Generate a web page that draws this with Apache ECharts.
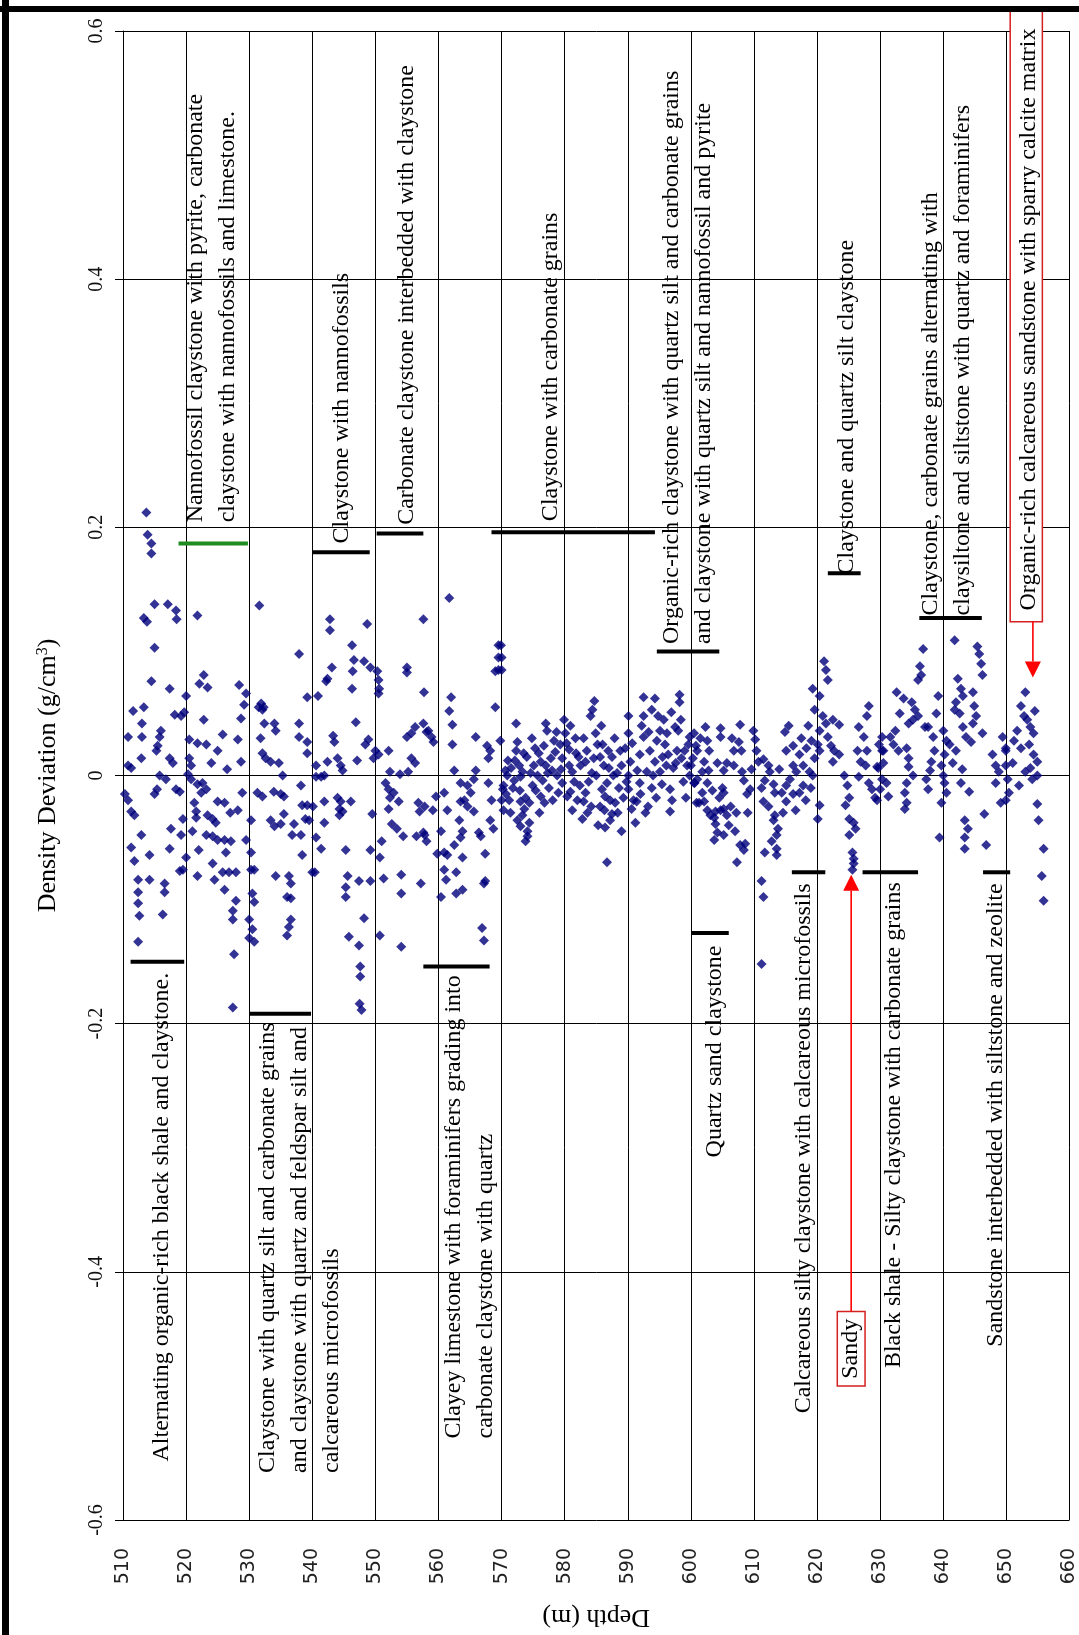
<!DOCTYPE html>
<html><head><meta charset="utf-8">
<script src="https://cdn.jsdelivr.net/npm/echarts@6/dist/echarts.min.js"></script>
<style>html,body{margin:0;padding:0;background:#fff}#c{width:1079px;height:1635px}</style>
</head><body><div id="c"></div><script>
// ---------- data: [depth (m), density deviation (g/cm3)] ----------
const seg510 = [[510.3,-0.015],[510.8,-0.020],[510.8,0.031],[510.8,0.008],[511.3,0.006],[511.3,-0.029],[511.8,-0.032],[511.6,0.052],[511.3,-0.058],[511.8,-0.069],[512.4,-0.084],[512.4,-0.094],[512.4,-0.103],[512.6,-0.113],[512.4,-0.134],[512.9,-0.048],[512.9,0.014],[513.0,0.042],[513.0,0.031],[513.3,0.055],[513.3,0.127],[513.7,0.212],[513.8,0.124],[513.9,0.194],[514.2,-0.064],[514.2,-0.084],[514.5,0.187],[514.5,0.179],[514.5,0.076],[515.0,0.138],[515.0,0.103],[515.0,-0.015],[515.3,0.020],[515.4,-0.011],[515.5,0.024],[515.8,0.031],[515.8,0.000],[516.0,0.036],[516.3,-0.112],[516.6,-0.087],[516.6,-0.094],[516.8,-0.003],[517.1,0.138],[517.4,0.070],[517.4,0.014],[517.4,-0.059],[517.6,-0.043],[517.9,0.010],[518.2,0.049],[518.4,0.133],[518.4,-0.011],[518.5,0.126],[519.0,-0.013],[519.0,-0.077],[519.2,0.048],[519.2,-0.048],[519.5,-0.035],[519.5,-0.076],[519.7,0.051],[520.0,0.064],[520.0,-0.066]];
const seg520 = [[520.3,0.001],[520.5,0.029],[520.5,0.014],[520.8,0.008],[520.8,-0.003],[521.3,-0.022],[521.6,-0.029],[521.6,-0.034],[521.8,0.129],[521.8,0.026],[521.8,-0.007],[521.8,-0.081],[522.1,0.074],[522.4,-0.014],[522.6,-0.006],[522.8,0.081],[522.8,0.045],[523.2,0.025],[523.2,-0.011],[523.2,-0.048],[523.4,0.071],[523.4,-0.032],[524.2,-0.035],[524.2,-0.049],[524.2,-0.071],[524.5,-0.084],[524.7,-0.038],[525.0,0.020],[525.0,-0.021],[525.0,-0.052],[525.8,0.033],[525.8,-0.078],[526.1,-0.022],[526.1,-0.052],[526.1,-0.092],[526.3,-0.062],[526.8,-0.078],[527.1,-0.053],[527.4,-0.109],[527.4,-0.116],[527.4,-0.187],[527.6,-0.144],[527.9,-0.078],[527.9,-0.101],[528.2,0.029],[528.2,-0.028],[528.4,0.073],[528.7,0.046],[528.7,0.011],[528.9,-0.014],[529.2,0.057],[529.5,0.066],[529.5,-0.052],[521.0,-0.045],[522.0,-0.060],[524.0,0.010],[526.5,0.005],[527.0,-0.030]];
const seg530 = [[530.3,-0.036],[530.3,-0.062],[530.3,-0.076],[530.8,-0.076],[530.5,-0.095],[530.8,-0.102],[530.0,-0.116],[530.5,-0.124],[530.0,-0.131],[530.8,-0.134],[531.3,-0.014],[531.5,0.055],[531.6,0.137],[531.8,0.030],[531.9,0.058],[532.1,0.053],[532.1,0.018],[532.1,-0.017],[532.3,0.055],[532.4,0.042],[532.6,0.014],[533.4,0.011],[533.4,-0.036],[533.9,-0.013],[534.0,0.042],[534.0,-0.041],[534.2,0.036],[534.2,-0.081],[534.7,0.010],[535.0,-0.015],[535.0,-0.039],[535.3,0.000],[535.5,-0.017],[535.5,-0.031],[536.0,-0.098],[536.0,-0.129],[536.3,-0.081],[536.3,-0.122],[536.6,-0.087],[536.6,-0.099],[536.6,-0.116],[536.8,-0.048],[537.1,-0.039],[537.9,0.098],[537.9,0.042],[537.9,0.031],[538.2,-0.008],[538.2,-0.048],[538.4,-0.024],[538.4,-0.064],[538.9,-0.035],[539.2,0.063],[539.2,0.027],[539.2,0.018],[539.2,-0.024],[539.5,-0.036],[540.0,-0.078]];
const seg540 = [[540.6,0.008],[540.6,-0.001],[540.9,0.064],[540.1,-0.025],[540.6,-0.050],[540.4,-0.078],[541.4,-0.001],[541.4,-0.059],[541.9,0.000],[541.9,-0.021],[541.9,-0.038],[542.2,0.076],[542.4,0.078],[542.4,0.011],[542.8,0.126],[542.8,0.117],[543.1,0.087],[543.3,0.032],[543.5,0.027],[544.0,0.014],[544.0,-0.018],[544.3,-0.027],[544.3,-0.032],[544.5,0.008],[544.5,-0.021],[544.8,0.004],[544.8,-0.029],[545.3,-0.060],[545.3,-0.090],[545.3,-0.098],[545.6,-0.081],[545.8,-0.130],[546.1,-0.021],[546.3,0.105],[546.3,0.070],[546.4,0.084],[546.6,0.093],[546.9,0.043],[547.1,0.012],[547.4,-0.085],[547.4,-0.137],[547.6,-0.154],[547.6,-0.162],[547.8,-0.189],[547.5,-0.184],[548.2,0.092],[548.2,-0.115],[548.4,0.025],[548.7,0.122],[548.9,0.029],[549.2,0.087],[549.2,-0.060],[549.2,-0.085],[549.5,-0.031],[549.7,0.014],[550.0,0.020]];
const seg550 = [[550.3,0.084],[550.5,0.077],[550.6,0.070],[550.5,0.066],[550.5,0.017],[550.7,-0.066],[550.7,-0.129],[551.0,-0.053],[551.3,-0.083],[551.6,-0.006],[552.1,0.020],[552.1,-0.011],[552.1,-0.027],[552.3,0.003],[552.3,-0.018],[552.6,-0.039],[552.9,-0.014],[553.4,-0.043],[553.7,-0.021],[553.9,0.001],[554.1,-0.080],[554.1,-0.095],[554.1,-0.138],[554.4,-0.049],[555.0,0.087],[555.0,0.083],[555.0,0.031],[555.2,0.003],[555.7,0.034],[555.7,0.014],[556.3,0.039],[556.3,0.010],[556.5,-0.049],[556.8,-0.022],[557.0,-0.029],[557.2,-0.087],[557.6,0.126],[557.6,0.042],[557.6,-0.046],[557.7,0.067],[557.8,-0.025],[557.8,-0.048],[558.1,0.035],[558.1,-0.053],[558.4,0.036],[558.9,0.031],[559.1,-0.028],[559.2,0.027],[559.6,-0.017],[559.8,-0.063]];
const seg560 = [[560.4,-0.045],[560.4,-0.098],[560.9,-0.014],[560.9,-0.062],[560.9,-0.076],[561.2,-0.084],[561.4,-0.028],[561.4,-0.064],[561.7,0.143],[561.7,0.052],[562.0,0.063],[562.2,0.041],[562.2,0.025],[562.5,0.004],[562.5,-0.056],[562.8,-0.078],[562.8,-0.095],[563.3,-0.036],[563.5,-0.006],[563.5,-0.021],[563.5,-0.050],[563.8,-0.045],[563.8,-0.066],[563.8,-0.092],[564.1,-0.020],[564.6,-0.008],[564.6,-0.025],[565.1,-0.014],[565.6,-0.003],[565.6,-0.029],[565.9,0.031],[565.9,0.004],[566.4,-0.046],[566.7,-0.049],[566.9,-0.123],[567.2,-0.087],[567.2,-0.133],[567.4,-0.063],[567.4,-0.085],[567.7,0.024],[567.9,0.014],[567.9,-0.006],[568.2,0.020],[568.2,-0.036],[568.4,-0.020],[568.7,-0.043],[569.0,0.084],[569.0,0.055],[569.5,0.105],[569.5,0.095],[569.5,0.085],[569.8,0.028]];
const seg570 = [[570.0,0.095],[570.0,0.085],[569.9,0.105],[570.2,-0.011],[570.3,-0.008],[570.0,-0.020],[570.3,-0.028],[570.7,-0.015],[570.9,0.000],[571.2,-0.020],[571.5,0.006],[572.0,-0.004],[572.3,0.042],[572.3,0.020],[572.5,0.027],[572.5,-0.036],[573.0,-0.001],[573.0,-0.021],[573.0,-0.041],[573.3,0.003],[573.3,-0.032],[573.6,-0.027],[573.8,-0.018],[573.8,-0.053],[574.1,-0.045],[574.1,-0.049],[574.4,-0.022],[574.4,-0.038],[574.9,-0.008],[575.1,0.008],[575.7,0.000],[576.2,0.011],[576.2,-0.017],[576.7,0.024],[577.0,0.042],[577.0,0.008],[577.2,0.036],[577.8,0.014],[578.3,0.028],[578.8,0.000],[579.6,0.014],[579.6,-0.006],[579.9,0.045],[571.0,0.012],[571.8,-0.010],[572.8,0.008],[574.0,0.015],[574.6,0.002],[575.4,-0.012],[575.9,0.018],[576.5,-0.004],[577.5,-0.010],[578.0,0.004],[578.5,0.019],[579.0,-0.014],[579.3,0.025],[570.6,0.004],[571.4,-0.030],[572.1,0.012],[572.9,-0.012],[573.5,0.018],[574.8,0.030],[575.3,0.022],[576.0,-0.030],[576.8,-0.022],[577.3,0.002],[578.1,-0.020],[578.7,0.035],[579.4,0.005]];
const seg580 = [[580.1,0.034],[580.4,-0.017],[580.7,0.021],[580.7,0.008],[580.9,-0.013],[581.2,0.003],[581.2,-0.028],[581.7,0.030],[582.0,-0.020],[582.5,0.008],[583.0,-0.021],[583.3,0.011],[583.3,-0.014],[583.5,0.020],[584.1,0.048],[584.4,0.053],[584.6,0.014],[584.7,0.060],[584.9,0.034],[585.6,0.015],[586.2,0.008],[587.0,0.006],[587.5,0.015],[588.8,0.020],[589.0,0.008],[587.7,0.000],[586.7,-0.006],[585.9,-0.011],[586.4,-0.017],[585.6,-0.025],[587.2,-0.020],[588.0,-0.022],[587.5,-0.031],[587.2,-0.036],[586.4,-0.042],[586.7,-0.070],[581.5,-0.005],[582.2,0.015],[582.8,-0.035],[583.8,-0.005],[584.2,-0.025],[585.0,0.000],[585.3,-0.040],[586.0,0.025],[588.3,0.002],[588.6,-0.010],[589.3,-0.018],[589.6,0.022],[580.3,0.026],[580.9,0.040],[581.8,0.018],[582.4,-0.008],[583.0,0.030],[583.6,-0.030],[584.3,0.002],[585.2,0.025],[585.8,0.040],[586.3,-0.028],[586.9,0.020],[587.9,0.030],[588.4,-0.030],[589.0,-0.045],[589.8,-0.005]];
const seg590 = [[590.1,0.048],[590.1,0.034],[590.4,0.011],[590.1,0.000],[590.1,-0.011],[590.9,-0.020],[591.4,-0.021],[590.6,-0.027],[591.2,-0.038],[592.5,0.063],[594.3,0.062],[593.8,0.053],[592.5,0.048],[594.8,0.048],[592.5,0.031],[591.9,0.017],[593.5,0.020],[594.6,0.028],[595.1,0.036],[595.9,0.025],[596.4,0.017],[597.5,0.039],[598.0,0.036],[598.2,0.065],[598.2,0.059],[596.9,0.051],[594.3,0.011],[593.0,0.003],[591.9,-0.006],[595.1,0.003],[596.1,0.008],[597.2,0.006],[598.5,0.014],[595.4,-0.007],[596.7,-0.011],[596.7,-0.029],[599.0,0.020],[599.6,0.025],[599.8,0.031],[599.8,0.000],[592.0,-0.015],[593.2,-0.025],[593.8,-0.010],[594.0,0.000],[595.7,0.045],[597.8,0.020],[598.8,-0.005],[599.2,-0.018],[590.7,0.026],[591.5,0.004],[592.2,0.040],[592.8,-0.030],[593.3,0.035],[594.5,-0.018],[595.5,0.015],[596.2,0.034],[597.0,-0.020],[597.6,0.010],[598.4,0.045],[599.4,0.008]];
const seg600 = [[600.3,0.014],[600.6,-0.006],[600.9,-0.022],[600.5,0.034],[600.8,0.024],[600.0,0.008],[601.0,0.020],[602.3,0.039],[602.6,0.028],[602.9,0.020],[602.1,0.011],[601.8,0.003],[601.0,-0.003],[600.5,-0.006],[602.6,-0.006],[601.8,-0.014],[601.3,-0.022],[602.1,-0.021],[602.6,-0.028],[603.1,-0.032],[603.7,-0.034],[603.9,-0.029],[604.7,-0.028],[605.2,-0.027],[605.7,-0.032],[606.3,-0.025],[605.2,-0.014],[605.0,-0.010],[603.9,-0.039],[604.2,-0.046],[603.7,-0.052],[605.2,-0.048],[607.0,-0.045],[607.3,-0.070],[607.8,-0.056],[608.6,-0.055],[608.4,-0.060],[604.7,0.038],[604.7,0.031],[607.8,0.041],[607.6,0.027],[606.8,0.020],[605.7,0.010],[605.2,0.004],[606.8,0.008],[608.1,0.003],[608.4,-0.004],[608.9,-0.015],[609.4,-0.011],[609.9,0.036],[601.5,0.030],[602.8,0.004],[603.4,-0.012],[604.2,0.010],[604.5,-0.018],[606.0,-0.040],[606.5,0.030],[607.2,-0.030],[608.0,0.020],[609.0,-0.030],[609.6,0.005]];
const seg610 = [[610.2,0.029],[610.4,0.020],[610.7,0.011],[611.5,0.013],[612.3,0.008],[612.5,0.003],[611.7,-0.004],[611.2,-0.010],[613.1,-0.007],[613.3,-0.014],[611.5,-0.021],[612.3,-0.025],[613.3,-0.032],[613.1,-0.036],[613.8,-0.043],[613.6,-0.048],[612.8,-0.053],[613.6,-0.059],[611.7,-0.062],[613.6,-0.064],[611.2,-0.085],[611.5,-0.098],[611.2,-0.152],[614.9,0.035],[615.1,0.020],[616.2,0.024],[616.2,0.008],[617.2,0.017],[616.7,0.003],[617.8,0.008],[618.3,0.022],[619.1,0.028],[615.7,-0.003],[615.1,-0.008],[614.4,-0.014],[615.1,-0.021],[616.2,-0.015],[617.2,-0.014],[617.8,-0.008],[619.3,0.070],[619.6,0.053],[619.3,0.000],[618.8,0.003],[619.6,0.014],[614.0,0.005],[614.6,-0.030],[615.5,0.040],[616.6,-0.028],[617.5,0.030],[618.2,-0.020],[618.6,0.040],[619.0,-0.010]];
const seg620 = [[620.1,0.025],[620.4,0.064],[621.1,0.092],[621.4,0.085],[621.7,0.077],[620.9,0.048],[621.4,0.042],[622.5,0.045],[623.5,0.041],[620.4,0.036],[620.4,0.020],[621.7,0.031],[622.2,0.024],[622.7,0.020],[623.5,0.017],[622.5,0.011],[620.4,-0.024],[620.1,-0.035],[624.3,0.000],[624.8,-0.008],[625.1,-0.018],[624.5,-0.024],[625.1,-0.035],[625.8,-0.038],[626.1,-0.043],[625.1,-0.048],[625.6,-0.062],[625.8,-0.067],[625.8,-0.071],[625.6,-0.076],[626.6,0.039],[627.9,0.048],[628.2,0.056],[627.4,0.031],[626.4,0.020],[626.9,0.011],[626.6,-0.001],[627.9,0.020],[627.7,0.008],[628.2,-0.006],[628.7,-0.011],[629.2,-0.018],[629.5,0.007],[629.8,0.025],[629.7,0.006],[629.5,-0.020]];
const seg630 = [[630.3,0.031],[630.5,0.020],[630.3,0.020],[630.5,0.010],[630.3,-0.003],[631.0,-0.006],[631.3,-0.017],[630.0,-0.011],[631.6,0.031],[632.1,0.025],[632.4,0.036],[632.6,0.067],[632.9,0.020],[633.1,0.050],[633.7,0.062],[633.9,-0.014],[633.9,-0.027],[634.2,0.022],[634.2,-0.006],[634.2,-0.022],[634.5,0.042],[634.5,0.014],[634.5,0.007],[635.0,0.059],[635.2,0.045],[635.2,0.000],[635.5,0.053],[636.0,0.048],[636.0,0.077],[636.3,0.088],[636.5,0.081],[636.8,0.102],[637.1,0.039],[637.6,0.039],[637.3,-0.003],[637.6,-0.011],[637.9,0.004],[638.1,0.011],[638.4,0.031],[638.6,0.020],[638.9,0.050],[639.2,0.064],[639.4,-0.050],[639.7,0.008],[639.7,-0.022]];
const seg640 = [[640.0,0.036],[640.5,0.028],[641.0,0.025],[640.2,0.017],[640.0,0.000],[640.2,-0.006],[640.5,-0.014],[641.8,0.109],[642.3,0.078],[642.8,0.070],[643.1,0.064],[642.0,0.059],[641.8,0.053],[642.6,0.050],[643.1,0.039],[643.6,0.031],[644.7,0.067],[644.9,0.056],[645.2,0.048],[644.7,0.042],[644.4,0.027],[646.2,0.034],[645.4,0.104],[645.7,0.098],[646.0,0.090],[646.2,0.081],[642.8,-0.006],[644.1,-0.013],[643.4,-0.036],[643.9,-0.043],[643.4,-0.050],[643.4,-0.059],[646.5,-0.031],[646.8,-0.056],[647.8,0.017],[648.3,0.008],[648.8,0.003],[648.3,-0.006],[649.4,0.031],[649.9,0.020],[649.9,0.008],[649.9,-0.020],[649.1,-0.022],[649.9,0.022],[641.5,0.010],[642.0,0.020],[643.0,0.005]];
const seg650 = [[650.2,-0.003],[650.4,-0.014],[651.2,0.028],[651.7,0.036],[652.3,0.022],[653.0,0.067],[652.3,0.056],[652.8,0.048],[653.8,0.039],[654.3,0.034],[653.6,0.025],[654.3,0.017],[654.9,0.011],[653.8,0.006],[653.0,0.003],[654.1,-0.003],[654.9,0.000],[654.9,-0.023],[655.1,-0.036],[655.9,-0.059],[655.6,-0.081],[655.9,-0.101],[651.0,0.010],[652.0,-0.008],[653.3,0.045],[654.5,0.052]];

// axis ticks
const depthTicks = [510,520,530,540,550,560,570,580,590,600,610,620,630,640,650,660];
const devTicks = [-0.6,-0.4,-0.2,0,0.2,0.4,0.6];

// lithology interval bars: start depth, end depth, deviation level, colour
const barStart = [511.2,518.8,530.0,540.1,550.2,557.6,568.4,594.6,600.1,616.0,621.7,627.2,636.2,646.3];
const barEnd   = [519.7,529.8,539.8,549.1,557.6,568.1,594.3,604.5,606.0,621.3,626.9,636.0,646.1,650.6];
const barDev   = [-0.150,0.187,-0.192,0.180,0.195,-0.154,0.196,0.100,-0.127,-0.078,0.163,-0.078,0.127,-0.078];
const barColor = ['#000','#1e8c1e','#000','#000','#000','#000','#000','#000','#000','#000','#000','#000','#000','#000'];

// lithology descriptions: text, depth of first text line, deviation where the text starts ('start') or ends ('end')
const litText = [
 "Alternating organic-rich black shale and claystone.",
 "Nannofossil claystone with pyrite, carbonate\nclaystone with nannofossils and limestone.",
 "Claystone with quartz silt and carbonate grains\nand claystone with quartz and feldspar silt and\ncalcareous microfossils",
 "Claystone with nannofossils",
 "Carbonate claystone interbedded with claystone",
 "Clayey limestone with foraminifers grading into\ncarbonate claystone with quartz",
 "Claystone with carbonate grains",
 "Organic-rich claystone with quartz silt and carbonate grains\nand claystone with quartz silt and nannofossil and pyrite",
 "Quartz sand claystone",
 "Calcareous silty claystone with calcareous microfossils",
 "Claystone and quartz silt claystone",
 "Black shale - Silty claystone with carbonate grains",
 "Claystone, carbonate grains alternating with\nclaysiltone and siltstone with quartz and foraminifers",
 "Sandstone interbedded with siltstone and zeolite",
 "Organic-rich calcareous sandstone with sparry calcite matrix"
];
const litDepth  = [516.1,521.5,533.0,544.7,555.0,562.4,577.8,597.0,603.8,617.9,624.7,632.2,638.0,648.3,653.5];
const litDev    = [-0.159,0.204,-0.199,0.187,0.202,-0.161,0.205,0.106,-0.137,-0.087,0.162,-0.086,0.129,-0.087,0.133];
const litAnchor = ['end','start','end','start','start','end','start','start','end','end','start','end','start','end','start'];

// red call-out boxes with arrows
const boxText  = ["Sandy", ""];
const boxLeft  = [623.2, 650.6];
const boxRight = [627.6, 655.7];
const boxLow   = [-0.492, 0.124];
const boxHigh  = [-0.432, 0.618];
const arrowDepth = [625.4, 654.2];
const arrowFrom  = [-0.432, 0.124];
const arrowTo    = [-0.080, 0.079];

const points = [].concat(seg510,seg520,seg530,seg540,seg550,seg560,seg570,seg580,seg590,seg600,seg610,seg620,seg630,seg640,seg650);

const SERIF = '"Liberation Serif","Times New Roman",serif';
const LH = 32;
const FONT = '24px ' + SERIF;
const measureCtx = document.createElement('canvas').getContext('2d');
measureCtx.font = FONT;
const blockWidth = t => Math.max.apply(null, t.split('\n').map(s => measureCtx.measureText(s).width));

const chart = echarts.init(document.getElementById('c'), null, {renderer:'canvas'});

const option = {
  backgroundColor: '#fff',
  animation: false,
  grid: {left:123, right:4, top:31, bottom:104, containLabel:false},
  xAxis: {
    type:'value', min:depthTicks[0], max:depthTicks[depthTicks.length-1], interval:10,
    name:'Depth (m)', nameLocation:'middle', nameRotate:180, nameGap:84,
    nameTextStyle:{fontFamily:SERIF, fontSize:26, color:'#000'},
    axisLine:{lineStyle:{color:'#000', width:1}},
    axisTick:{show:true, length:7, lineStyle:{color:'#000'}},
    axisLabel:{rotate:90, margin:28, fontFamily:'"DejaVu Sans",sans-serif', fontSize:19, color:'#222'},
    splitLine:{show:true, lineStyle:{color:'#000', width:1}}
  },
  yAxis: {
    type:'value', min:devTicks[0], max:devTicks[devTicks.length-1], interval:0.2,
    name:'Density Deviation (g/cm{s|3})', nameLocation:'middle', nameRotate:90, nameGap:62,
    nameTextStyle:{fontFamily:SERIF, fontSize:26, color:'#000', rich:{s:{fontFamily:SERIF, fontSize:16, verticalAlign:'top', color:'#000'}}},
    axisLine:{lineStyle:{color:'#000', width:1}},
    axisTick:{show:true, length:8, lineStyle:{color:'#000'}},
    axisLabel:{rotate:90, margin:16, fontFamily:SERIF, fontSize:20, color:'#111',
      formatter: v => String(Math.round(v*10)/10)},
    splitLine:{show:true, lineStyle:{color:'#000', width:1}}
  },
  graphic: [
    {type:'rect', shape:{x:2, y:0, width:7, height:1635}, style:{fill:'#000'}, z:100},
    {type:'rect', shape:{x:0, y:6, width:1079, height:6}, style:{fill:'#000'}, z:100}
  ],
  series: [
    {
      type:'scatter', data: points, symbol:'diamond', symbolSize:10,
      itemStyle:{color:'#00007a'}, z:3
    },
    {
      type:'custom', z:5, clip:false,
      data: barStart.map((s,i)=>[s, barDev[i], barEnd[i], i]),
      renderItem: (params, api) => {
        const i = api.value(3);
        const p1 = api.coord([api.value(0), api.value(1)]);
        const p2 = api.coord([api.value(2), api.value(1)]);
        return {type:'line', shape:{x1:p1[0], y1:p1[1], x2:p2[0], y2:p2[1]},
          style:{stroke:barColor[i], lineWidth:4}};
      }
    },
    {
      type:'custom', z:6, clip:false,
      data: boxLeft.map((l,i)=>[l, boxLow[i], boxRight[i], boxHigh[i], i]),
      renderItem: (params, api) => {
        const i = api.value(4);
        const a = api.coord([api.value(0), api.value(1)]);
        const b = api.coord([api.value(2), api.value(3)]);
        const x = Math.min(a[0],b[0]), y = Math.min(a[1],b[1]);
        const w = Math.abs(b[0]-a[0]), h = Math.abs(b[1]-a[1]);
        const s = api.coord([arrowDepth[i], arrowFrom[i]]);
        const t = api.coord([arrowDepth[i], arrowTo[i]]);
        const dir = t[1] < s[1] ? 1 : -1;
        const headLen = 16, headW = 8;
        const base = t[1] + dir*headLen;
        const children = [
          {type:'rect', shape:{x:x, y:y, width:w, height:h}, style:{fill:'#fff', stroke:'#d42020', lineWidth:1.5}},
          {type:'line', shape:{x1:s[0], y1:s[1], x2:t[0], y2:base}, style:{stroke:'#ff0000', lineWidth:1.6}},
          {type:'polygon', shape:{points:[[t[0],t[1]],[t[0]-headW,base],[t[0]+headW,base]]}, style:{fill:'#ff0000'}}
        ];
        if (boxText[i]) {
          children.push({type:'text', x:x+w/2, y:y+h/2, rotation:Math.PI/2,
            style:{text:boxText[i], font:FONT, fill:'#000', align:'center', verticalAlign:'middle'}});
        }
        return {type:'group', children};
      }
    },
    {
      type:'custom', z:7, clip:false,
      data: litDepth.map((d,i)=>[d, litDev[i], i]),
      renderItem: (params, api) => {
        const i = api.value(2);
        const p = api.coord([api.value(0), api.value(1)]);
        const yStart = litAnchor[i] === 'end' ? p[1] + blockWidth(litText[i]) : p[1];
        return {type:'text', x:p[0]-LH/2, y:yStart, rotation:Math.PI/2,
          style:{text:litText[i], font:FONT, fill:'#000', align:'left', verticalAlign:'top', lineHeight:LH}};
      }
    }
  ]
};
chart.setOption(option);
</script></body></html>
